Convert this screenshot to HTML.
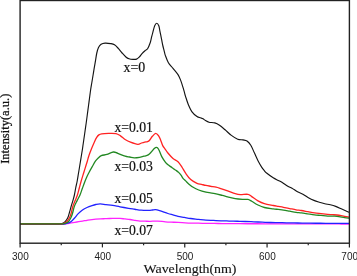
<!DOCTYPE html>
<html><head><meta charset="utf-8"><title>PL spectra</title>
<style>
html,body{margin:0;padding:0;background:#fff;}
body{width:357px;height:276px;overflow:hidden;}
svg{display:block;}
text{filter:grayscale(1);}
.c{fill:none;stroke-width:1.3;stroke-linejoin:round;stroke-linecap:butt;}
.tk{font-family:"Liberation Sans",sans-serif;font-size:10px;fill:#222;}
.lb{font-family:"Liberation Serif",serif;font-size:14px;fill:#111;stroke:#111;stroke-width:0.2;}
.ax{font-family:"Liberation Serif",serif;font-size:13px;fill:#111;stroke:#111;stroke-width:0.12;}
</style></head><body>
<svg width="357" height="276" viewBox="0 0 357 276">
<rect x="0" y="0" width="357" height="276" fill="#fff"/>
<path class="c" stroke="#ff22ff" d="M20.00,224.20 C21.40,224.20 25.60,224.20 28.40,224.20 C31.20,224.20 34.00,224.20 36.80,224.20 C39.60,224.20 42.40,224.20 45.20,224.20 C48.00,224.20 50.80,224.20 53.60,224.20 C56.40,224.20 59.82,224.28 62.00,224.20 C64.18,224.12 65.17,223.92 66.70,223.70 C68.23,223.48 69.50,223.18 71.20,222.90 C72.90,222.62 75.02,222.30 76.90,222.00 C78.78,221.70 80.82,221.38 82.50,221.10 C84.18,220.82 85.42,220.55 87.00,220.30 C88.58,220.05 89.75,219.83 92.00,219.60 C94.25,219.37 98.33,219.05 100.50,218.90 C102.67,218.75 103.53,218.77 105.05,218.70 C106.57,218.63 107.97,218.54 109.60,218.50 C111.22,218.46 113.07,218.47 114.80,218.45 C116.53,218.43 118.30,218.32 120.00,218.40 C121.70,218.48 123.33,218.77 125.00,218.95 C126.67,219.13 128.33,219.28 130.00,219.50 C131.67,219.72 133.33,220.03 135.00,220.30 C136.67,220.57 138.32,220.95 140.00,221.10 C141.68,221.25 143.37,221.17 145.05,221.20 C146.73,221.23 147.99,221.32 150.10,221.30 C152.21,221.28 155.15,221.02 157.70,221.10 C160.25,221.18 162.71,221.61 165.40,221.80 C168.09,221.99 171.02,222.09 173.83,222.23 C176.64,222.38 179.46,222.52 182.27,222.67 C185.08,222.81 187.98,223.01 190.70,223.10 C193.42,223.19 195.94,223.18 198.56,223.22 C201.18,223.26 203.80,223.30 206.42,223.34 C209.04,223.38 211.66,223.42 214.28,223.46 C216.90,223.50 219.52,223.54 222.14,223.58 C224.76,223.62 227.21,223.68 230.00,223.70 C232.79,223.72 235.93,223.71 238.89,223.72 C241.85,223.73 244.81,223.74 247.78,223.74 C250.74,223.75 253.70,223.76 256.67,223.77 C259.63,223.77 262.59,223.78 265.56,223.79 C268.52,223.80 271.48,223.80 274.44,223.81 C277.41,223.82 280.37,223.83 283.33,223.83 C286.30,223.84 289.26,223.85 292.22,223.86 C295.19,223.86 298.15,223.87 301.11,223.88 C304.07,223.89 307.21,223.89 310.00,223.90 C312.79,223.91 315.24,223.91 317.86,223.92 C320.48,223.93 323.10,223.93 325.72,223.94 C328.34,223.95 330.96,223.95 333.58,223.96 C336.20,223.97 338.82,223.97 341.44,223.98 C344.06,223.99 347.99,224.00 349.30,224.00"/>
<path class="c" stroke="#2222ff" d="M20.00,224.10 C21.40,224.10 25.60,224.10 28.40,224.10 C31.20,224.10 34.00,224.10 36.80,224.10 C39.60,224.10 42.40,224.10 45.20,224.10 C48.00,224.10 50.80,224.10 53.60,224.10 C56.40,224.10 60.10,224.15 62.00,224.10 C63.90,224.05 64.02,223.97 65.00,223.80 C65.98,223.63 66.87,223.50 67.90,223.10 C68.93,222.70 70.08,222.25 71.20,221.40 C72.32,220.55 73.47,219.25 74.60,218.00 C75.73,216.75 76.68,215.23 78.00,213.90 C79.32,212.57 81.00,211.07 82.50,210.00 C84.00,208.93 85.42,208.23 87.00,207.50 C88.58,206.77 90.53,206.10 92.00,205.60 C93.47,205.10 94.43,204.78 95.80,204.50 C97.17,204.22 98.50,203.88 100.20,203.90 C101.90,203.92 103.90,204.35 106.00,204.60 C108.10,204.85 110.47,205.03 112.80,205.40 C115.13,205.77 117.38,206.32 120.00,206.80 C122.62,207.28 126.03,207.89 128.50,208.30 C130.97,208.71 132.70,208.93 134.80,209.25 C136.90,209.57 138.78,210.01 141.10,210.20 C143.42,210.39 146.80,210.43 148.70,210.40 C150.60,210.37 151.37,210.12 152.50,210.00 C153.63,209.88 154.32,209.58 155.50,209.70 C156.68,209.82 157.53,210.07 159.60,210.70 C161.67,211.33 165.68,212.80 167.90,213.50 C170.12,214.20 171.27,214.43 172.95,214.90 C174.63,215.37 176.10,215.88 178.00,216.30 C179.90,216.72 182.23,217.03 184.35,217.40 C186.47,217.77 188.38,218.18 190.70,218.50 C193.02,218.82 195.77,219.03 198.30,219.30 C200.83,219.57 203.37,219.91 205.90,220.10 C208.43,220.29 210.97,220.33 213.50,220.45 C216.03,220.57 218.48,220.70 221.10,220.80 C223.72,220.90 226.50,220.96 229.20,221.03 C231.90,221.11 234.60,221.19 237.30,221.27 C240.00,221.34 242.64,221.41 245.40,221.50 C248.16,221.59 251.02,221.72 253.83,221.83 C256.64,221.94 259.46,222.06 262.27,222.17 C265.08,222.28 267.98,222.42 270.70,222.50 C273.42,222.58 275.94,222.59 278.56,222.64 C281.18,222.69 283.80,222.73 286.42,222.78 C289.04,222.83 291.66,222.87 294.28,222.92 C296.90,222.97 299.52,223.01 302.14,223.06 C304.76,223.11 307.38,223.17 310.00,223.20 C312.62,223.23 315.24,223.23 317.86,223.24 C320.48,223.25 323.10,223.27 325.72,223.28 C328.34,223.29 330.96,223.31 333.58,223.32 C336.20,223.33 338.82,223.35 341.44,223.36 C344.06,223.37 347.99,223.39 349.30,223.40"/>
<path class="c" style="stroke-width:1.15" stroke="#141414" d="M20.00,223.80 C21.46,223.80 25.83,223.80 28.75,223.80 C31.67,223.80 34.58,223.80 37.50,223.80 C40.42,223.80 43.33,223.80 46.25,223.80 C49.17,223.80 52.62,223.80 55.00,223.80 C57.38,223.80 59.10,223.95 60.50,223.80 C61.90,223.65 62.55,223.35 63.40,222.90 C64.25,222.45 64.85,222.00 65.60,221.10 C66.35,220.20 67.23,219.03 67.90,217.50 C68.57,215.97 69.05,213.78 69.60,211.90 C70.15,210.02 70.65,208.08 71.20,206.20 C71.75,204.32 72.37,202.47 72.90,200.60 C73.43,198.73 73.93,197.10 74.40,195.00 C74.87,192.90 75.23,190.33 75.70,188.00 C76.17,185.67 76.74,183.42 77.20,181.00 C77.66,178.58 78.03,176.00 78.45,173.50 C78.87,171.00 79.28,168.58 79.70,166.00 C80.12,163.42 80.57,160.67 81.00,158.00 C81.43,155.33 81.95,152.25 82.30,150.00 C82.65,147.75 82.83,146.33 83.10,144.50 C83.37,142.67 83.58,141.25 83.90,139.00 C84.23,136.75 84.67,133.67 85.05,131.00 C85.43,128.33 85.83,125.71 86.20,123.00 C86.58,120.29 86.93,117.50 87.30,114.75 C87.67,112.00 88.03,109.25 88.40,106.50 C88.77,103.75 89.13,101.00 89.50,98.25 C89.87,95.50 90.22,92.59 90.60,90.00 C90.98,87.41 91.40,85.16 91.80,82.73 C92.20,80.31 92.60,77.89 93.00,75.47 C93.40,73.04 93.78,70.68 94.20,68.20 C94.62,65.72 95.07,63.13 95.50,60.60 C95.93,58.07 96.30,55.20 96.80,53.00 C97.30,50.80 97.78,48.85 98.50,47.40 C99.22,45.95 100.00,45.02 101.10,44.30 C102.20,43.58 103.50,43.22 105.10,43.10 C106.70,42.98 109.13,43.32 110.70,43.60 C112.27,43.88 113.23,44.00 114.50,44.80 C115.77,45.60 117.03,47.03 118.30,48.40 C119.57,49.77 120.83,51.57 122.10,53.00 C123.37,54.43 124.75,56.03 125.90,57.00 C127.05,57.97 127.82,58.40 129.00,58.80 C130.18,59.20 131.73,59.35 133.00,59.40 C134.27,59.45 135.57,59.48 136.60,59.10 C137.63,58.72 138.30,58.02 139.20,57.10 C140.10,56.18 141.03,54.67 142.00,53.60 C142.97,52.53 144.07,51.52 145.00,50.70 C145.93,49.88 146.75,49.98 147.60,48.70 C148.45,47.42 149.47,44.80 150.10,43.00 C150.73,41.20 150.97,39.60 151.40,37.90 C151.83,36.20 152.15,34.83 152.70,32.80 C153.25,30.77 154.03,27.30 154.70,25.70 C155.37,24.10 156.02,23.20 156.70,23.20 C157.38,23.20 158.28,24.48 158.80,25.70 C159.32,26.92 159.47,28.93 159.80,30.55 C160.13,32.17 160.47,33.75 160.80,35.40 C161.13,37.05 161.47,38.77 161.80,40.45 C162.13,42.13 162.42,43.82 162.80,45.50 C163.18,47.18 163.67,48.87 164.10,50.55 C164.53,52.23 164.68,53.58 165.40,55.60 C166.12,57.62 167.13,60.58 168.40,62.70 C169.67,64.82 171.40,66.32 173.00,68.30 C174.60,70.28 176.73,72.63 178.00,74.60 C179.27,76.57 179.75,77.92 180.60,80.10 C181.45,82.28 182.47,85.69 183.10,87.70 C183.72,89.71 183.93,90.67 184.35,92.15 C184.77,93.63 184.96,94.59 185.60,96.60 C186.24,98.61 187.13,101.67 188.20,104.20 C189.27,106.73 190.53,109.75 192.00,111.80 C193.47,113.85 195.58,115.50 197.00,116.50 C198.42,117.50 199.50,117.42 200.50,117.80 C201.50,118.18 202.17,118.33 203.00,118.80 C203.83,119.27 204.50,120.03 205.50,120.60 C206.50,121.17 207.45,121.82 209.00,122.20 C210.55,122.58 213.05,122.40 214.80,122.90 C216.55,123.40 217.78,124.05 219.50,125.20 C221.22,126.35 223.12,128.10 225.10,129.80 C227.08,131.50 229.30,133.83 231.40,135.40 C233.50,136.97 235.77,138.45 237.70,139.20 C239.63,139.95 241.45,139.60 243.00,139.90 C244.55,140.20 245.70,140.10 247.00,141.00 C248.30,141.90 249.55,143.28 250.80,145.30 C252.05,147.32 253.30,150.53 254.50,153.10 C255.70,155.67 256.78,158.32 258.00,160.70 C259.22,163.08 260.78,165.78 261.80,167.40 C262.82,169.02 263.25,169.42 264.10,170.40 C264.95,171.38 265.38,172.07 266.90,173.30 C268.42,174.53 271.30,176.62 273.20,177.80 C275.10,178.98 276.78,179.62 278.30,180.40 C279.82,181.18 280.72,181.53 282.30,182.50 C283.88,183.47 286.18,185.25 287.80,186.20 C289.42,187.15 290.38,187.27 292.00,188.20 C293.62,189.13 295.68,190.80 297.50,191.80 C299.32,192.80 301.08,193.22 302.90,194.20 C304.72,195.18 306.57,196.67 308.40,197.70 C310.23,198.73 312.08,199.65 313.90,200.40 C315.72,201.15 317.48,201.65 319.30,202.20 C321.12,202.75 322.97,203.27 324.80,203.70 C326.63,204.13 328.48,204.35 330.30,204.80 C332.12,205.25 333.88,205.73 335.70,206.40 C337.52,207.07 339.38,207.98 341.20,208.80 C343.02,209.62 345.23,210.70 346.60,211.30 C347.97,211.90 348.93,212.22 349.40,212.40"/>
<path class="c" stroke="#ff2222" d="M20.00,223.90 C21.27,223.90 25.07,223.90 27.60,223.90 C30.13,223.90 32.67,223.90 35.20,223.90 C37.73,223.90 40.27,223.90 42.80,223.90 C45.33,223.90 47.87,223.90 50.40,223.90 C52.93,223.90 56.07,223.92 58.00,223.90 C59.93,223.88 60.92,223.93 62.00,223.80 C63.08,223.67 63.72,223.45 64.50,223.10 C65.28,222.75 65.85,222.63 66.70,221.70 C67.55,220.77 68.85,218.95 69.60,217.50 C70.35,216.05 70.65,214.88 71.20,213.00 C71.75,211.12 72.23,208.27 72.90,206.20 C73.57,204.13 74.45,202.47 75.20,200.60 C75.95,198.73 76.72,197.10 77.40,195.00 C78.08,192.90 78.67,190.33 79.30,188.00 C79.93,185.67 80.45,183.58 81.20,181.00 C81.95,178.42 83.08,174.86 83.80,172.50 C84.52,170.14 84.97,168.73 85.55,166.85 C86.13,164.97 86.76,163.01 87.30,161.20 C87.84,159.39 88.08,158.10 88.80,156.00 C89.52,153.90 90.67,150.95 91.60,148.60 C92.53,146.25 93.55,143.77 94.40,141.90 C95.25,140.03 95.95,138.57 96.70,137.40 C97.45,136.23 98.07,135.50 98.90,134.90 C99.73,134.30 100.10,134.05 101.70,133.80 C103.30,133.55 106.12,133.43 108.50,133.40 C110.88,133.37 114.00,133.18 116.00,133.60 C118.00,134.02 118.98,134.92 120.50,135.90 C122.02,136.88 123.43,138.45 125.10,139.50 C126.77,140.55 128.38,141.40 130.50,142.20 C132.62,143.00 135.97,144.17 137.80,144.30 C139.63,144.43 140.35,143.37 141.50,143.00 C142.65,142.63 143.70,142.33 144.70,142.10 C145.70,141.87 146.68,141.92 147.50,141.60 C148.32,141.28 148.78,141.08 149.60,140.20 C150.42,139.32 151.38,137.45 152.40,136.30 C153.42,135.15 154.67,133.38 155.70,133.30 C156.73,133.22 157.78,134.68 158.60,135.80 C159.42,136.92 159.92,138.37 160.60,140.00 C161.28,141.63 161.92,144.05 162.70,145.60 C163.48,147.15 164.43,148.07 165.30,149.30 C166.17,150.53 166.62,151.47 167.90,153.00 C169.18,154.53 171.32,157.03 173.00,158.50 C174.68,159.97 176.53,160.40 178.00,161.80 C179.47,163.20 180.53,165.00 181.80,166.90 C183.07,168.80 184.12,171.08 185.60,173.20 C187.08,175.32 188.80,177.90 190.70,179.60 C192.60,181.30 195.21,182.60 197.00,183.40 C198.79,184.20 199.97,184.07 201.45,184.40 C202.93,184.73 204.31,185.08 205.90,185.40 C207.49,185.72 209.30,186.00 211.00,186.30 C212.70,186.60 214.60,186.87 216.10,187.20 C217.60,187.53 218.08,187.70 220.00,188.30 C221.92,188.90 225.07,189.92 227.60,190.80 C230.13,191.68 233.08,192.97 235.20,193.60 C237.32,194.23 238.18,194.48 240.30,194.60 C242.42,194.72 246.00,193.97 247.90,194.30 C249.80,194.63 250.02,195.50 251.70,196.60 C253.38,197.70 255.88,199.72 258.00,200.90 C260.12,202.08 261.87,202.93 264.40,203.70 C266.93,204.47 270.88,205.05 273.20,205.50 C275.52,205.95 276.60,206.10 278.30,206.40 C280.00,206.70 281.49,206.94 283.40,207.30 C285.31,207.66 287.63,208.13 289.75,208.55 C291.87,208.97 294.18,209.48 296.10,209.80 C298.03,210.12 299.33,210.18 301.30,210.50 C303.27,210.82 305.70,211.30 307.90,211.70 C310.10,212.10 312.31,212.58 314.50,212.90 C316.69,213.22 318.87,213.37 321.05,213.60 C323.23,213.83 325.73,214.12 327.60,214.30 C329.48,214.48 330.73,214.53 332.30,214.65 C333.87,214.77 334.95,214.72 337.00,215.00 C339.05,215.28 342.55,215.95 344.60,216.30 C346.65,216.65 348.52,216.97 349.30,217.10"/>
<path class="c" stroke="#228822" d="M20.00,223.90 C21.33,223.90 25.33,223.90 28.00,223.90 C30.67,223.90 33.33,223.90 36.00,223.90 C38.67,223.90 41.33,223.90 44.00,223.90 C46.67,223.90 49.33,223.90 52.00,223.90 C54.67,223.90 58.17,223.92 60.00,223.90 C61.83,223.88 62.07,223.93 63.00,223.80 C63.93,223.67 64.70,223.45 65.60,223.10 C66.50,222.75 67.50,222.63 68.40,221.70 C69.30,220.77 70.30,218.95 71.00,217.50 C71.70,216.05 72.03,214.88 72.60,213.00 C73.17,211.12 73.65,208.27 74.40,206.20 C75.15,204.13 76.17,202.47 77.10,200.60 C78.03,198.73 79.10,197.10 80.00,195.00 C80.90,192.90 81.65,190.33 82.50,188.00 C83.35,185.67 84.35,182.92 85.10,181.00 C85.85,179.08 86.35,177.92 87.00,176.50 C87.65,175.08 88.15,174.10 89.00,172.50 C89.85,170.90 91.03,168.78 92.10,166.90 C93.17,165.02 94.42,162.63 95.40,161.20 C96.38,159.77 97.02,159.22 98.00,158.30 C98.98,157.38 99.82,156.35 101.30,155.70 C102.78,155.05 104.88,155.02 106.90,154.40 C108.92,153.78 111.58,152.18 113.40,152.00 C115.22,151.82 115.85,152.60 117.80,153.30 C119.75,154.00 123.12,155.58 125.10,156.20 C127.07,156.82 128.13,156.73 129.65,157.00 C131.17,157.27 132.54,157.75 134.20,157.80 C135.86,157.85 137.88,157.58 139.60,157.30 C141.32,157.02 143.07,156.50 144.50,156.10 C145.93,155.70 146.98,155.68 148.20,154.90 C149.42,154.12 150.78,152.47 151.80,151.40 C152.82,150.33 153.53,149.18 154.30,148.50 C155.07,147.82 155.78,147.33 156.40,147.30 C157.02,147.27 157.52,147.73 158.00,148.30 C158.48,148.87 158.65,149.27 159.30,150.70 C159.95,152.13 160.87,154.97 161.90,156.90 C162.93,158.83 164.48,160.98 165.50,162.30 C166.52,163.62 167.08,164.03 168.00,164.80 C168.92,165.57 170.08,166.23 171.00,166.90 C171.92,167.57 172.60,168.18 173.50,168.80 C174.40,169.42 175.55,170.00 176.40,170.60 C177.25,171.20 177.83,171.63 178.60,172.40 C179.37,173.17 180.27,174.22 181.00,175.20 C181.73,176.18 182.23,177.35 183.00,178.30 C183.77,179.25 184.65,179.97 185.60,180.90 C186.55,181.83 187.43,182.83 188.70,183.90 C189.97,184.97 191.53,186.28 193.20,187.30 C194.87,188.32 196.57,189.18 198.70,190.00 C200.83,190.82 204.03,191.72 206.00,192.20 C207.97,192.68 209.00,192.67 210.50,192.90 C212.00,193.13 213.03,193.18 215.00,193.60 C216.97,194.02 220.20,194.87 222.30,195.40 C224.40,195.93 225.45,196.25 227.60,196.80 C229.75,197.35 232.67,198.27 235.20,198.70 C237.73,199.13 240.68,199.28 242.80,199.40 C244.92,199.52 246.42,199.10 247.90,199.40 C249.38,199.70 250.02,200.27 251.70,201.20 C253.38,202.13 255.88,203.95 258.00,205.00 C260.12,206.05 261.87,206.87 264.40,207.50 C266.93,208.13 270.88,208.48 273.20,208.80 C275.52,209.12 276.60,209.23 278.30,209.45 C280.00,209.67 281.49,209.81 283.40,210.10 C285.31,210.39 287.63,210.83 289.75,211.20 C291.87,211.57 294.18,212.02 296.10,212.30 C298.03,212.58 299.33,212.64 301.30,212.90 C303.27,213.16 305.70,213.53 307.90,213.85 C310.10,214.17 312.31,214.53 314.50,214.80 C316.69,215.07 318.87,215.23 321.05,215.45 C323.23,215.67 325.73,215.97 327.60,216.10 C329.48,216.22 330.73,216.17 332.30,216.20 C333.87,216.23 334.95,216.07 337.00,216.30 C339.05,216.53 342.55,217.28 344.60,217.60 C346.65,217.92 348.52,218.10 349.30,218.20"/>
<rect x="20.1" y="0.5" width="329.3" height="242.7" fill="none" stroke="#222" stroke-width="1.4"/>
<g stroke="#222" stroke-width="1.2"><line x1="20.10" y1="243.2" x2="20.10" y2="247.4"/><line x1="102.42" y1="243.2" x2="102.42" y2="247.4"/><line x1="184.75" y1="243.2" x2="184.75" y2="247.4"/><line x1="267.07" y1="243.2" x2="267.07" y2="247.4"/><line x1="349.40" y1="243.2" x2="349.40" y2="247.4"/><line x1="61.26" y1="243.2" x2="61.26" y2="245.3"/><line x1="143.59" y1="243.2" x2="143.59" y2="245.3"/><line x1="225.91" y1="243.2" x2="225.91" y2="245.3"/><line x1="308.24" y1="243.2" x2="308.24" y2="245.3"/></g>
<g class="tk"><text x="20.40" y="260.3" text-anchor="middle">300</text><text x="102.72" y="260.3" text-anchor="middle">400</text><text x="185.05" y="260.3" text-anchor="middle">500</text><text x="267.38" y="260.3" text-anchor="middle">600</text><text x="349.70" y="260.3" text-anchor="middle">700</text></g>
<g class="lb">
<text x="123.5" y="71.6" textLength="21.8" lengthAdjust="spacingAndGlyphs">x=0</text>
<text x="114.4" y="132.2" textLength="38.6" lengthAdjust="spacingAndGlyphs">x=0.01</text>
<text x="114.4" y="170.9" textLength="38.6" lengthAdjust="spacingAndGlyphs">x=0.03</text>
<text x="114.4" y="202.9" textLength="38.6" lengthAdjust="spacingAndGlyphs">x=0.05</text>
<text x="114.4" y="235.1" textLength="38.6" lengthAdjust="spacingAndGlyphs">x=0.07</text>
</g>
<text class="ax" x="143.5" y="273" textLength="93" lengthAdjust="spacingAndGlyphs">Wavelength(nm)</text>
<text class="ax" style="font-size:12.5px;stroke-width:0.25" transform="translate(9.0,163.8) rotate(-90)" textLength="70.1" lengthAdjust="spacingAndGlyphs">Intensity(a.u.)</text>
</svg>
</body></html>
